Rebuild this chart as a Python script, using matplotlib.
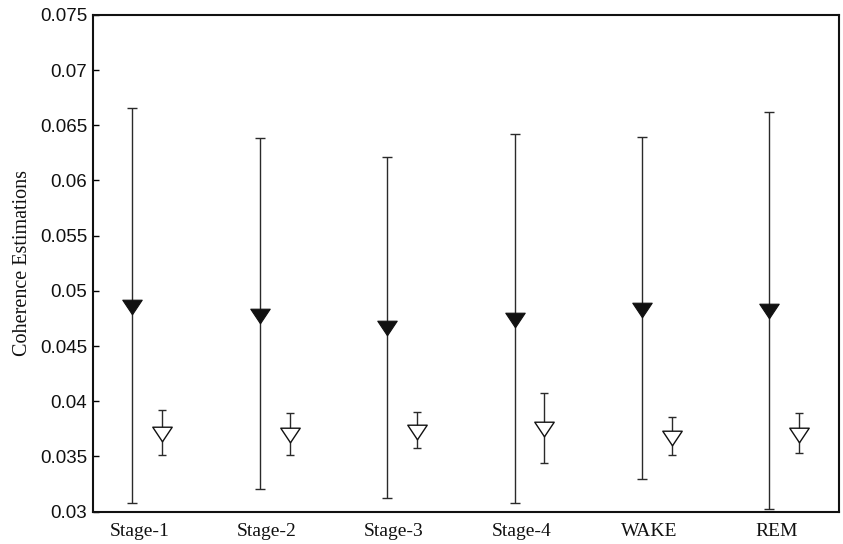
import matplotlib
matplotlib.use("Agg")
import matplotlib.pyplot as plt
from matplotlib.path import Path
import numpy as np

categories = ["Stage-1", "Stage-2", "Stage-3", "Stage-4", "WAKE", "REM"]

# filled-triangle series (mean, lower bound, upper bound)
filled_mean = [0.04854, 0.04774, 0.04660, 0.04736, 0.04829, 0.04817]
filled_low = [0.03076, 0.03206, 0.03127, 0.03076, 0.03299, 0.03027]
filled_high = [0.06657, 0.06382, 0.06209, 0.06421, 0.06394, 0.06618]

# open-triangle series (mean, lower bound, upper bound)
open_mean = [0.03706, 0.03694, 0.03721, 0.03746, 0.03668, 0.03694]
open_low = [0.03515, 0.03515, 0.03574, 0.03437, 0.03515, 0.03527]
open_high = [0.03918, 0.03891, 0.03906, 0.04076, 0.03855, 0.03891]

yticks = [0.03, 0.035, 0.04, 0.045, 0.05, 0.055, 0.06, 0.065, 0.07, 0.075]

fig = plt.figure(figsize=(8.43, 5.44), dpi=100)
ax = fig.add_axes([0.110, 0.0594, 0.8856, 0.9134])

x = np.arange(1, len(categories) + 1)
xf = x
xo = x + 0.233
xt = x + 0.054

tri = Path([(-1, 0.75), (1, 0.75), (0, -0.75), (-1, 0.75)], closed=True)

fm = np.array(filled_mean)
ferr = [fm - np.array(filled_low), np.array(filled_high) - fm]
om = np.array(open_mean)
oerr = [om - np.array(open_low), np.array(open_high) - om]

ax.errorbar(xf, fm, yerr=ferr, fmt="none", ecolor="#2a2a2a", elinewidth=1.0,
            capsize=3.9, capthick=1.0, zorder=2)
ax.plot(xf, fm, linestyle="none", marker=tri, markersize=14,
        markerfacecolor="#111111", markeredgecolor="#111111",
        markeredgewidth=0.8, zorder=3)

ax.errorbar(xo, om, yerr=oerr, fmt="none", ecolor="#2a2a2a", elinewidth=1.0,
            capsize=2.9, capthick=1.0, zorder=2)
ax.plot(xo, om, linestyle="none", marker=tri, markersize=14,
        markerfacecolor="white", markeredgecolor="#111111",
        markeredgewidth=1.0, zorder=3)

ax.set_xlim(0.6884, 6.5487)
ax.set_ylim(0.03, 0.075)
ax.set_yticks(yticks)
ax.set_yticklabels(["%g" % v for v in yticks], fontfamily="Liberation Sans",
                   fontsize=13.5, color="#111111")
ax.set_xticks(xt)
ax.set_xticklabels(categories, fontfamily="Liberation Serif", fontsize=14,
                   color="#111111")
ax.tick_params(axis="y", direction="in", length=4, width=1, pad=3.9,
               left=True, right=False)
ax.tick_params(axis="x", length=0, pad=8)

for s in ax.spines.values():
    s.set_linewidth(1.5)
    s.set_color("#111111")

ax.set_ylabel("Coherence Estimations", fontfamily="Liberation Serif",
              fontsize=14.5, color="#111111", labelpad=6)

fig.savefig("out.png", dpi=100)
